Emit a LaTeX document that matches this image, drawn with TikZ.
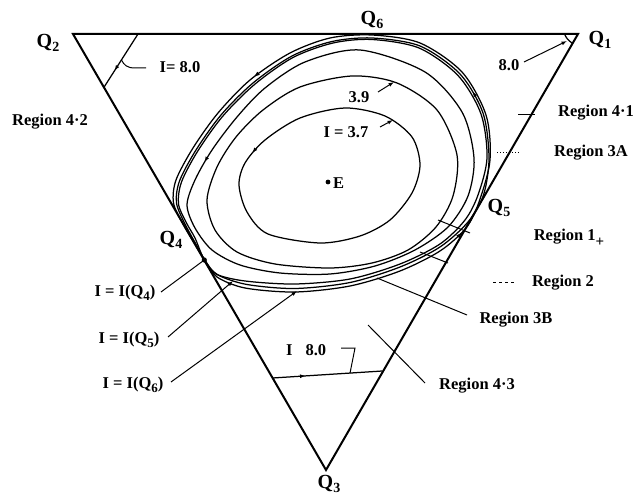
\documentclass[tikz,border=0pt]{standalone}
\usepackage{fontspec}
\setmainfont{Liberation Serif}
\usetikzlibrary{arrows.meta,decorations.markings}
\newcommand\Qsb[2]{Q\raisebox{-0.45ex}{\fontsize{#2}{#2}\selectfont #1}}
\tikzset{
  edge/.style={line width=2pt, line join=miter},
  orbit/.style={line width=1.25pt},
  lbl/.style={font=\fontsize{16.5}{18}\selectfont\bfseries, inner sep=0pt},
  qlbl/.style={font=\fontsize{20}{22}\selectfont\bfseries, inner sep=0pt},
  leader/.style={line width=1pt},
  tip/.style={-{Latex[length=5.5pt,width=4pt]}},
  flowarrow/.style={postaction={decorate},decoration={markings,mark=at position #1 with {\arrow{Latex[length=5.5pt,width=4pt]}}}},
}
\begin{document}
\begin{tikzpicture}[x=1pt,y=-1pt]
\useasboundingbox (0,0) rectangle (639,502);
% triangle
\coordinate (Q1) at (578,34);
\coordinate (Q2) at (73,34);
\coordinate (Q3) at (326,470);
\coordinate (Q4) at (204.3,260);
\coordinate (Q5) at (484.6,195);
\coordinate (Q6) at (372,34);
\draw[edge] (Q2) -- (Q1) -- (Q3) -- cycle;
% vertex labels
\node[qlbl] (lQ1) at (600,40) {\Qsb{1}{14}};
\node[qlbl] (lQ2) at (48,43) {\Qsb{2}{14}};
\node[qlbl] (lQ3) at (329,484) {\Qsb{3}{14}};
\node[qlbl] (lQ4) at (171,240) {\Qsb{4}{14}};
\node[qlbl] (lQ5) at (499,208) {\Qsb{5}{14}};
\node[qlbl] (lQ6) at (372,20) {\Qsb{6}{14}};
% inner orbits
\draw[orbit, flowarrow=0.12] plot[smooth cycle] coordinates {(345,108) (300,118) (265,140) (245,163) (239,185) (247,212) (268,234) (320,243) (360,236) (390,220) (412,193) (420,165) (412,137) (385,116)};
\draw[orbit] plot[smooth cycle] coordinates {(352,76) (300,87) (263,110) (236,137) (217,167) (207,200) (215,230) (237,252) (275,264) (330,268) (372,263) (408,250) (436,227) (453,196) (457,155) (437,110) (397,83)};
\draw[orbit, flowarrow=0.18] plot[smooth cycle] coordinates {(360,50) (305,62) (265,88) (237,117) (212,150) (195,180) (187,205) (195,228) (212,250) (240,265) (280,273) (330,274) (375,266) (415,250) (448,227) (468,196) (474,158) (462,112) (425,72)};
% outer orbits I(Q4), I(Q5), I(Q6)
\draw[orbit] plot[smooth cycle] coordinates {(372,39.5) (333,43) (293,57.5) (254.5,84.5) (222.5,116.5) (197.5,151.5) (181.5,182) (178.5,204) (186.5,223) (195,238) (204.3,260) (216,274) (245,281) (295,284) (350,279) (400,264) (440,244) (465,220) (478,195) (487,158) (481,114) (458,75.5) (419,48)};
\draw[orbit, flowarrow=0.82] plot[smooth cycle] coordinates {(372,38) (332,41.5) (292,56) (253,83) (221,115) (196,150) (179.5,181) (176.5,203) (185,224) (197,246) (206,262) (218,275) (247,284.5) (295,288.5) (350,282.5) (400,267) (440,247) (468,222) (483.5,195) (489,158) (483,113) (460,74) (420,46)};
\draw[orbit, flowarrow=0.095, flowarrow=0.65] plot[smooth cycle] coordinates {(372,35) (330,38) (290,53) (250,80) (218,113) (193,148) (176,180) (173.5,203) (183,224) (196,246) (205.5,261) (217,277) (245,288) (295,292) (350,286) (400,271) (440,251) (466,228) (479,202) (490,160) (486,115) (462,72) (420,43)};
% level lines I = 8.0
\coordinate (tlA) at (138,34);
\coordinate (tlB) at (103.5,88);
\coordinate (tlM) at (121.5,60);
\draw[orbit, flowarrow=0.68] (tlA) -- (tlB);
\coordinate (btA) at (272.6,378);
\coordinate (btB) at (382.4,371);
\coordinate (btM) at (350,373.2);
\draw[orbit, flowarrow=0.3] (btA) -- (btB);
\coordinate (crA) at (564.5,34);
\coordinate (crB) at (572.5,43.5);
\draw[orbit] (crA) .. controls (567,39) .. (crB);
% E
\coordinate (E) at (328,182);
\fill (E) circle (2.4);
\node[lbl, anchor=west] (tE) at (333,183) {E};
% labels of level curves
\node[lbl] (t80a) at (180,67) {I= 8.0};
\coordinate (h80a) at (146,68);
\draw[leader] (h80a) -- (135,68) .. controls (127,68) and (124,65) .. (tlM);
\node[lbl] (t80b) at (509,65) {8.0};
\coordinate (s80b) at (524,62);
\coordinate (p80b) at (567,41);
\draw[leader, tip] (s80b) -- (p80b);
\node[lbl] (t39) at (359,97) {3.9};
\coordinate (s39) at (378,92);
\coordinate (p39) at (394,82);
\draw[leader, tip] (s39) -- (p39);
\node[lbl] (t37) at (346,132) {I = 3.7};
\coordinate (s37) at (380,127);
\coordinate (p37) at (393,120);
\draw[leader, tip] (s37) -- (p37);
\node[lbl, anchor=west] (t80c) at (286,350) {I\hspace{13pt}8.0};
\coordinate (h80c) at (341,348);
\draw[leader] (h80c) -- (355,348) -- (btM);
% I = I(Q) labels
\node[lbl] (i4) at (125,293) {I = I(\Qsb{4}{13})};
\node[lbl] (i5) at (129,340) {I = I(\Qsb{5}{13})};
\node[lbl] (i6) at (133,385) {I = I(\Qsb{6}{13})};
\coordinate (s4) at (161,292);
\coordinate (s5) at (168,337);
\coordinate (s6) at (171,382);
\coordinate (p5) at (233,281);
\coordinate (p6) at (297,291);
\draw[leader] (s4) -- (Q4);
\fill (Q4) circle (2.6);
\draw[leader, tip] (s5) -- (p5);
\draw[leader, tip] (s6) -- (p6);
% region labels
\node[lbl] (r42) at (50,122) {Region 4·2};
\node[lbl] (r41) at (596,113) {Region 4·1};
\node[lbl] (r3a) at (591,153) {Region 3A};
\node[lbl] (r1) at (569,238) {Region 1\raisebox{-0.8ex}{\fontsize{15}{15}\selectfont +}};
\node[lbl] (r2) at (563,283) {Region 2};
\node[lbl] (r3b) at (516,320) {Region 3B};
\node[lbl] (r43) at (477,386) {Region 4·3};
\coordinate (k41a) at (518,115); \coordinate (k41b) at (535,115);
\draw[leader] (k41a) -- (k41b);
\coordinate (k3aa) at (497,153); \coordinate (k3ab) at (519,153);
\draw[leader, dotted] (k3aa) -- (k3ab);
\coordinate (k1a) at (438,220); \coordinate (k1b) at (470,233);
\draw[leader] (k1a) -- (k1b);
\coordinate (k2a) at (420,252); \coordinate (k2b) at (448,263);
\draw[leader] (k2a) -- (k2b);
\coordinate (k2c) at (493,283); \coordinate (k2d) at (517,283);
\draw[leader, dashed] (k2c) -- (k2d);
\coordinate (k3ba) at (377,278); \coordinate (k3bb) at (467,315);
\draw[leader] (k3ba) -- (k3bb);
\coordinate (k43a) at (368,325); \coordinate (k43b) at (425,383);
\draw[leader] (k43a) -- (k43b);
\end{tikzpicture}
\end{document}
